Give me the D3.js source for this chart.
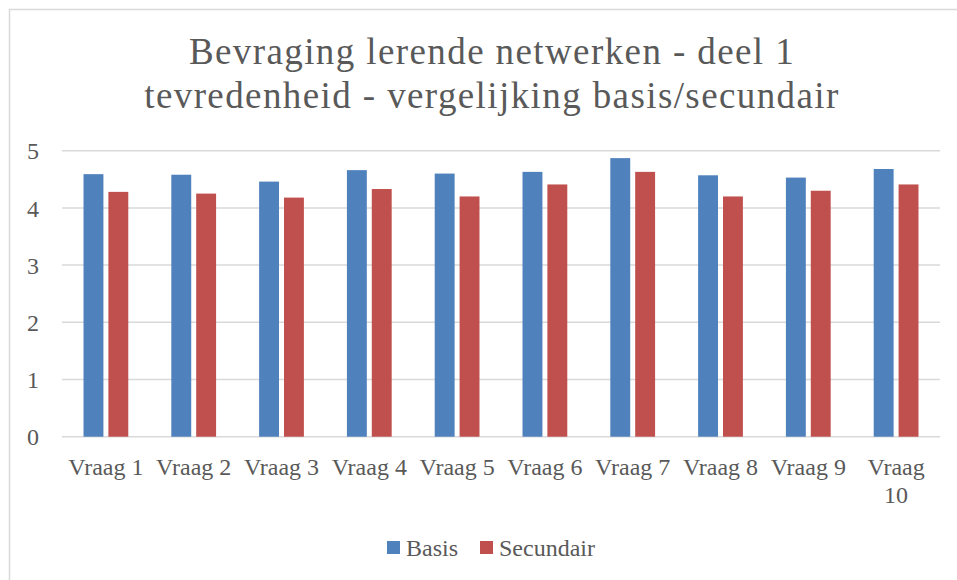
<!DOCTYPE html>
<html>
<head>
<meta charset="utf-8">
<script src="https://cdn.jsdelivr.net/npm/d3@7"></script>
<style>
  body { margin: 0; background: #fff; }
  text { font-family: "Liberation Serif", serif; fill: #595959; }
</style>
</head>
<body>
<svg id="chart" width="957" height="580"></svg>
<script>
const categories = ["Vraag 1", "Vraag 2", "Vraag 3", "Vraag 4", "Vraag 5", "Vraag 6", "Vraag 7", "Vraag 8", "Vraag 9", "Vraag 10"]
const basis = [4.59, 4.58, 4.46, 4.66, 4.60, 4.63, 4.87, 4.57, 4.53, 4.68]
const secundair = [4.28, 4.25, 4.18, 4.33, 4.20, 4.41, 4.63, 4.20, 4.30, 4.41]
const seriesNames = ["Basis", "Secundair"]
const yTicks = [0, 1, 2, 3, 4, 5]
const titleLines = ["Bevraging lerende netwerken - deel 1", "tevredenheid - vergelijking basis/secundair"]

const colors = ["#4F81BD", "#C0504D"]
const svg = d3.select("#chart")

// chart frame
svg.append("rect")
    .attr("x", 9.5).attr("y", 9.5)
    .attr("width", 980).attr("height", 600)
    .attr("fill", "none")
    .attr("stroke", "#d9d9d9")
    .attr("stroke-width", 1.5)

const plot = {left: 62, right: 940, top: 150.7, bottom: 436.7}

const x0 = d3.scaleBand()
    .domain(categories)
    .range([plot.left, plot.right])
    .paddingInner(0.49)
    .paddingOuter(0.245)

const x1 = d3.scaleBand()
    .domain(seriesNames)
    .range([0, x0.bandwidth()])
    .paddingInner(0.2)

const y = d3.scaleLinear()
    .domain([0, 5])
    .range([plot.bottom, plot.top])

// gridlines
svg.append("g")
    .selectAll("line")
    .data(yTicks)
    .join("line")
    .attr("x1", plot.left)
    .attr("x2", plot.right)
    .attr("y1", d => y(d))
    .attr("y2", d => y(d))
    .attr("stroke", "#d9d9d9")
    .attr("stroke-width", 1.5)

// y axis labels
const yAxis = svg.append("g")
    .attr("transform", `translate(${plot.left - 16},0)`)
    .call(d3.axisLeft(y).tickValues(yTicks).tickFormat(d3.format("d")).tickSize(0).tickPadding(7))
yAxis.select(".domain").remove()
yAxis.selectAll("text")
    .attr("font-size", 24)
    .attr("font-family", "Liberation Serif, serif")
    .attr("fill", "#595959")
    .attr("dy", "0.34em")

// bars
const rows = categories.map((c, i) => ({cat: c, values: [basis[i], secundair[i]]}))

svg.append("g")
    .selectAll("g")
    .data(rows)
    .join("g")
    .attr("transform", d => `translate(${x0(d.cat)},0)`)
    .selectAll("rect")
    .data(d => d.values.map((v, i) => ({key: seriesNames[i], value: v, i})))
    .join("rect")
    .attr("x", d => x1(d.key))
    .attr("width", x1.bandwidth())
    .attr("y", d => y(d.value))
    .attr("height", d => y(0) - y(d.value))
    .attr("fill", d => colors[d.i])

// x labels, wrapped like Excel when wider than the category
const step = x0.step()
const xLabels = svg.append("g")
    .selectAll("text")
    .data(categories)
    .join("text")
    .attr("x", d => x0(d) + x0.bandwidth() / 2)
    .attr("y", 475)
    .attr("text-anchor", "middle")
    .attr("font-size", 24)
    .text(d => d)

xLabels.each(function(d) {
    const t = d3.select(this)
    if (this.getComputedTextLength() > step - 2) {
        const words = d.split(" ")
        const cx = t.attr("x")
        t.text(null)
        words.forEach((w, i) => {
            t.append("tspan")
                .attr("x", cx)
                .attr("dy", i === 0 ? 0 : 28)
                .text(w)
        })
    }
})

// title
svg.append("g")
    .selectAll("text")
    .data(titleLines)
    .join("text")
    .attr("x", 492)
    .attr("y", (d, i) => 64 + i * 44)
    .attr("text-anchor", "middle")
    .attr("font-size", 37)
    .attr("letter-spacing", 1.4)
    .text(d => d)

// legend
const legend = svg.append("g").attr("transform", "translate(387,541)")
const legendX = [0, 93]
const items = legend.selectAll("g")
    .data(seriesNames)
    .join("g")
    .attr("transform", (d, i) => `translate(${legendX[i]},0)`)
items.append("rect")
    .attr("width", 13)
    .attr("height", 13)
    .attr("fill", (d, i) => colors[i])
items.append("text")
    .attr("x", 19)
    .attr("y", 15)
    .attr("font-size", 24)
    .text(d => d)
</script>
</body>
</html>
